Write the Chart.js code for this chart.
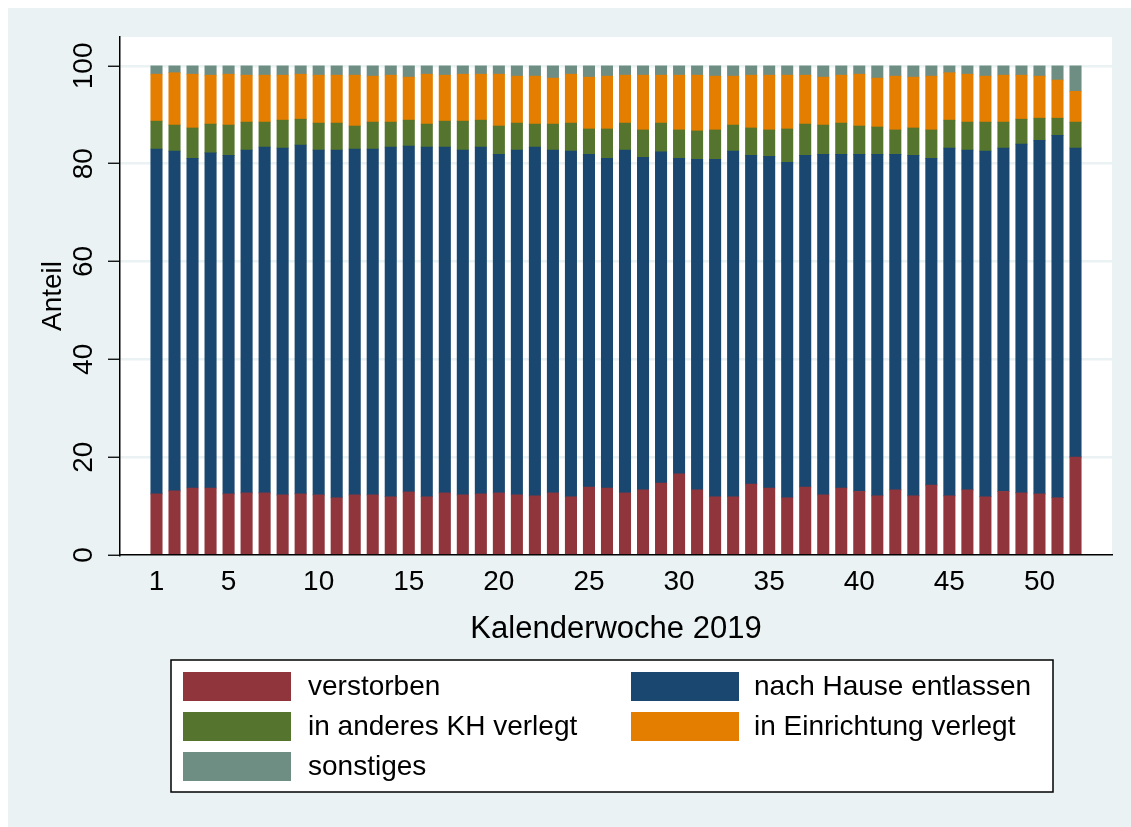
<!DOCTYPE html>
<html lang="de">
<head>
<meta charset="utf-8">
<title>Entlassungsart nach Kalenderwoche 2019</title>
<script src="https://cdn.jsdelivr.net/npm/chart.js@4.4.1/dist/chart.umd.min.js"></script>
<style>
  html, body { margin: 0; padding: 0; background: #fff; }
  #wrap { position: relative; width: 1131px; height: 827px; }
</style>
</head>
<body>
<div id="wrap"><canvas id="chart" width="1131" height="827"></canvas></div>
<script>
// Anteil der Entlassungsarten je Kalenderwoche 2019

const weeks = [1, 2, 3, 4, 5, 6, 7, 8, 9, 10, 11, 12, 13, 14, 15, 16, 17, 18, 19, 20,
    21, 22, 23, 24, 25, 26, 27, 28, 29, 30, 31, 32, 33, 34, 35, 36, 37, 38, 39, 40,
    41, 42, 43, 44, 45, 46, 47, 48, 49, 50, 51, 52];

const verstorben = [12.5, 13.1, 13.7, 13.7, 12.5, 12.7, 12.7, 12.3, 12.5, 12.3,
    11.7, 12.3, 12.3, 11.9, 12.9, 11.9, 12.7, 12.3, 12.5, 12.7,
    12.3, 12.1, 12.7, 11.9, 13.9, 13.7, 12.7, 13.3, 14.7, 16.6,
    13.3, 11.9, 11.9, 14.5, 13.7, 11.7, 13.9, 12.3, 13.7, 13.0,
    12.1, 13.3, 12.1, 14.3, 12.1, 13.3, 11.9, 13.0, 12.7, 12.5,
    11.7, 20.0];

const nachHause = [70.5, 69.5, 67.4, 68.5, 69.2, 70.1, 70.7, 70.9, 71.3, 70.5,
    71.1, 70.7, 70.7, 71.5, 70.7, 71.5, 70.7, 70.5, 70.9, 69.2,
    70.5, 71.3, 70.1, 70.7, 68.0, 67.4, 70.1, 68.0, 67.7, 64.5,
    67.6, 69.0, 70.7, 67.2, 67.8, 68.6, 67.8, 69.6, 68.2, 68.9,
    69.8, 68.6, 69.6, 66.8, 71.1, 69.5, 70.7, 70.2, 71.3, 72.3,
    74.1, 63.2];

const anderesKH = [5.7, 5.3, 6.2, 5.9, 6.2, 5.7, 5.1, 5.7, 5.3, 5.5,
    5.5, 4.7, 5.5, 5.1, 5.3, 4.7, 5.3, 5.9, 5.5, 5.8,
    5.5, 4.7, 5.3, 5.7, 5.2, 6.0, 5.5, 5.6, 5.9, 5.8,
    5.8, 6.0, 5.3, 5.6, 5.4, 6.8, 6.4, 6.0, 6.4, 5.8,
    5.6, 5.0, 5.6, 5.8, 5.7, 5.7, 5.9, 5.3, 5.1, 4.5,
    3.5, 5.3];

const einrichtung = [9.6, 10.7, 11.0, 10.0, 10.4, 9.6, 9.6, 9.2, 9.2, 9.8,
    9.8, 10.4, 9.4, 9.6, 8.8, 10.2, 9.4, 9.6, 9.4, 10.6,
    9.6, 9.8, 9.4, 10.0, 10.6, 10.8, 9.8, 11.2, 9.8, 11.2,
    11.4, 11.0, 10.0, 10.8, 11.2, 11.0, 10.0, 9.8, 9.8, 10.6,
    10.0, 11.0, 10.4, 11.0, 9.7, 9.8, 9.4, 9.6, 9.0, 8.6,
    7.8, 6.3];

const sonstiges = [1.7, 1.4, 1.7, 1.9, 1.7, 1.9, 1.9, 1.9, 1.7, 1.9,
    1.9, 1.9, 2.1, 1.9, 2.3, 1.7, 1.9, 1.7, 1.7, 1.7,
    2.1, 2.1, 2.5, 1.7, 2.3, 2.1, 1.9, 1.9, 1.9, 1.9,
    1.9, 2.1, 2.1, 1.9, 1.9, 1.9, 1.9, 2.3, 1.9, 1.7,
    2.5, 2.1, 2.3, 2.1, 1.4, 1.7, 2.1, 1.9, 1.9, 2.1,
    2.9, 5.2];

const seriesLabels = ['verstorben', 'nach Hause entlassen', 'in anderes KH verlegt',
    'in Einrichtung verlegt', 'sonstiges'];
const xTicks = [1, 5, 10, 15, 20, 25, 30, 35, 40, 45, 50];
const yTicks = [0, 20, 40, 60, 80, 100];

// ── Stata s2color look ─────────────────────────────────────────────────────
const colors = ['#90353B', '#1A476F', '#55752F', '#E37E00', '#6E8E84'];
const bgOuter = '#EAF2F3';
const FONT = "'Liberation Sans', Arial, Helvetica, sans-serif";

function toPoints(values) {
    return weeks.map((w, i) => ({ x: w, y: values[i] }));
}

const seriesValues = [verstorben, nachHause, anderesKH, einrichtung, sonstiges];

// frame, axis titles, rotated y labels and the 2-column legend box
const stataFrame = {
    id: 'stataFrame',
    beforeDraw(chart) {
        const { ctx, chartArea: a } = chart;
        ctx.save();
        ctx.fillStyle = '#fff';
        ctx.fillRect(0, 0, chart.width, chart.height);
        ctx.fillStyle = bgOuter;
        ctx.fillRect(8, 8, chart.width - 8, chart.height - 8);
        ctx.fillStyle = '#fff';
        ctx.fillRect(a.left, a.top, a.right - a.left, a.bottom - a.top);
        ctx.restore();
    },
    afterDraw(chart) {
        const { ctx, chartArea: a } = chart;
        const yScale = chart.scales.y;
        ctx.save();
        ctx.fillStyle = '#000';
        ctx.font = '28px ' + FONT;

        // y tick labels, rotated like Stata
        yTicks.forEach(v => {
            ctx.save();
            ctx.translate(92, yScale.getPixelForValue(v));
            ctx.rotate(-Math.PI / 2);
            ctx.textAlign = 'center';
            ctx.textBaseline = 'alphabetic';
            ctx.fillText(String(v), 0, 0);
            ctx.restore();
        });

        // y title
        ctx.save();
        ctx.translate(61, (a.top + a.bottom) / 2);
        ctx.rotate(-Math.PI / 2);
        ctx.textAlign = 'center';
        ctx.textBaseline = 'alphabetic';
        ctx.fillText('Anteil', 0, 0);
        ctx.restore();

        // x title
        ctx.font = '31px ' + FONT;
        ctx.textAlign = 'center';
        ctx.textBaseline = 'alphabetic';
        ctx.fillText('Kalenderwoche 2019', (a.left + a.right) / 2, 638);

        // legend
        const box = { x: 171, y: 660, w: 882, h: 132 };
        ctx.fillStyle = '#fff';
        ctx.fillRect(box.x, box.y, box.w, box.h);
        ctx.strokeStyle = '#000';
        ctx.lineWidth = 1.5;
        ctx.strokeRect(box.x, box.y, box.w, box.h);

        const colX = [183, 631];
        const textX = [308, 754];
        ctx.font = '28px ' + FONT;
        ctx.textAlign = 'left';
        ctx.textBaseline = 'middle';
        chart.data.datasets.forEach((ds, i) => {
            const col = i % 2;
            const row = Math.floor(i / 2);
            const top = 672 + row * 40;
            ctx.fillStyle = ds.backgroundColor;
            ctx.fillRect(colX[col], top, 108, 29);
            ctx.fillStyle = '#000';
            ctx.fillText(ds.label, textX[col], top + 15);
        });
        ctx.restore();
    }
};

new Chart(document.getElementById('chart'), {
    type: 'bar',
    data: {
        datasets: seriesValues.map((vals, i) => ({
            label: seriesLabels[i],
            data: toPoints(vals),
            backgroundColor: colors[i],
            borderWidth: 0,
            barThickness: 11.4
        }))
    },
    options: {
        responsive: false,
        animation: false,
        events: [],
        layout: { padding: { top: 37, right: 19, left: 0, bottom: 0 } },
        plugins: {
            legend: { display: false },
            tooltip: { enabled: false }
        },
        scales: {
            x: {
                type: 'linear',
                stacked: true,
                offset: false,
                min: -1.025,
                max: 54.025,
                afterBuildTicks: scale => { scale.ticks = xTicks.map(v => ({ value: v })); },
                afterFit: scale => { scale.height = 272; },
                grid: { display: false, drawTicks: false, offset: false },
                border: { display: true, color: '#000', width: 1.5 },
                ticks: {
                    autoSkip: false,
                    maxRotation: 0,
                    padding: 10,
                    color: '#000',
                    font: { family: FONT, size: 28 }
                }
            },
            y: {
                stacked: true,
                min: 0,
                max: 105.9,
                afterBuildTicks: scale => { scale.ticks = yTicks.map(v => ({ value: v })); },
                afterFit: scale => { scale.width = 120; },
                grid: {
                    color: bgOuter,
                    lineWidth: 2.5,
                    tickColor: '#000',
                    tickLength: 12,
                    tickWidth: 1.3
                },
                border: { display: true, color: '#000', width: 1.5 },
                ticks: { display: false }
            }
        }
    },
    plugins: [stataFrame]
});
</script>
</body>
</html>
